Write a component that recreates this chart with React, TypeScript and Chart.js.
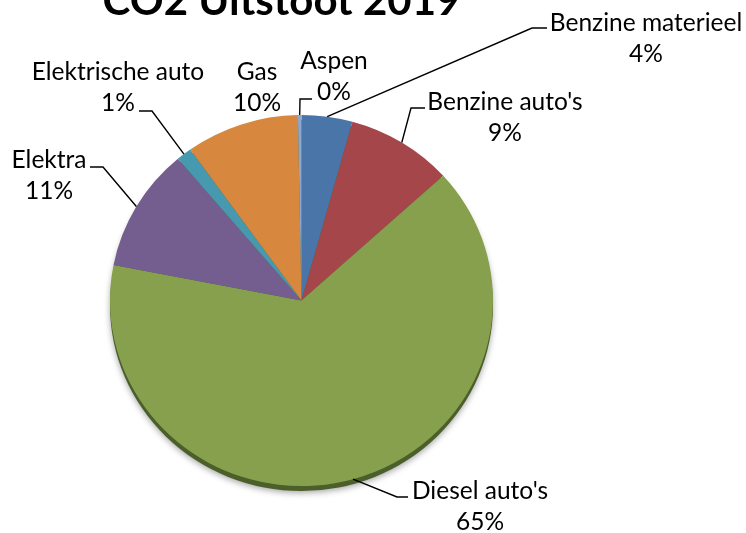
import React, { useEffect, useRef } from "react";
import { Chart, registerables } from "chart.js";

Chart.register(...registerables);

// ---- data ----
const chartTitle = "CO2 Uitstoot 2019";
const categories = [
  "Benzine materieel",
  "Benzine auto's",
  "Diesel auto's",
  "Elektra",
  "Elektrische auto",
  "Gas",
  "Aspen",
];
const aandeel = [4.3, 9.0, 65.0, 10.8, 1.3, 9.6, 0.3];

// ---- styles ----
const sliceColors = [
  "#4A75A8",
  "#A5474A",
  "#86A04E",
  "#745D8F",
  "#4799AF",
  "#D8873F",
  "#8EA7CF",
];
const FONT = "Lato, 'Open Sans', sans-serif";
const LABEL_SIZE = 24.5;
const TITLE_SIZE = 42;
const LINE_GAP = 31;
const Y_SCALE = 0.9687; // slight tilt of the pie
const RIM = 5;

// label layout (text centre x, middle y of first line, optional leader elbow/end)
type LabelPos = { x: number; y: number; elbow?: [number, number]; end?: [number, number] };
const labelLayout: LabelPos[] = [
  { x: 646, y: 23, elbow: [532, 28], end: [547, 28] },
  { x: 505, y: 102, elbow: [411, 108], end: [425, 108] },
  { x: 480, y: 491, elbow: [397, 497], end: [408, 497] },
  { x: 49, y: 160, elbow: [103, 167], end: [90, 167] },
  { x: 118, y: 72, elbow: [152, 111], end: [139, 111] },
  { x: 257, y: 72 },
  { x: 334, y: 61, elbow: [300, 99], end: [312, 99] },
];

const piePlugin = {
  id: "pieDecor",
  beforeDatasetsDraw(chart: any) {
    const ctx = chart.ctx as CanvasRenderingContext2D;
    const meta = chart.getDatasetMeta(0);
    const arc = meta.data[0];
    if (!arc) return;
    const { x, y, outerRadius } = arc.getProps(["x", "y", "outerRadius"], true);
    ctx.save();
    // 3D rim + shadow
    ctx.shadowColor = "rgba(0,0,0,0.35)";
    ctx.shadowBlur = 6;
    ctx.shadowOffsetY = 2;
    ctx.fillStyle = "#4B5F2A";
    ctx.beginPath();
    ctx.ellipse(x, y + RIM, outerRadius, outerRadius * Y_SCALE, 0, 0, Math.PI * 2);
    ctx.fill();
    ctx.restore();
    ctx.save();
    ctx.translate(x, y);
    ctx.scale(1, Y_SCALE);
    ctx.translate(-x, -y);
  },
  afterDatasetsDraw(chart: any) {
    const ctx = chart.ctx as CanvasRenderingContext2D;
    ctx.restore();
    const meta = chart.getDatasetMeta(0);
    const total = aandeel.reduce((a, b) => a + b, 0);
    ctx.save();
    // title
    ctx.fillStyle = "#000";
    ctx.font = `bold ${TITLE_SIZE}px ${FONT}`;
    ctx.textAlign = "center";
    ctx.textBaseline = "alphabetic";
    ctx.fillText(chartTitle, 281.5, 15);

    meta.data.forEach((el: any, i: number) => {
      const p = el.getProps(["x", "y", "startAngle", "endAngle", "outerRadius"], true);
      const mid = (p.startAngle + p.endAngle) / 2;
      const sx = p.x + Math.cos(mid) * p.outerRadius;
      const sy = p.y + Math.sin(mid) * p.outerRadius * Y_SCALE;
      const lay = labelLayout[i];
      if (lay.elbow && lay.end) {
        ctx.strokeStyle = "#000";
        ctx.lineWidth = 1.4;
        ctx.beginPath();
        ctx.moveTo(sx, sy);
        ctx.lineTo(lay.elbow[0], lay.elbow[1]);
        ctx.lineTo(lay.end[0], lay.end[1]);
        ctx.stroke();
      }
      const pct = Math.round((aandeel[i] / total) * 100) + "%";
      ctx.font = `${LABEL_SIZE}px ${FONT}`;
      ctx.textAlign = "center";
      ctx.textBaseline = "middle";
      ctx.fillStyle = "#000";
      ctx.fillText(categories[i], lay.x, lay.y);
      ctx.fillText(pct, lay.x, lay.y + LINE_GAP);
    });
    ctx.restore();
  },
};

export default function App() {
  const ref = useRef<HTMLCanvasElement | null>(null);
  useEffect(() => {
    if (!ref.current) return;
    const chart = new Chart(ref.current, {
      type: "pie",
      data: {
        labels: categories,
        datasets: [
          {
            data: aandeel,
            backgroundColor: sliceColors,
            borderWidth: 0,
          },
        ],
      },
      options: {
        animation: false,
        responsive: false,
        devicePixelRatio: 1,
        layout: { padding: { left: 110, right: 253, top: 109, bottom: 41 } },
        plugins: {
          legend: { display: false },
          tooltip: { enabled: false },
          title: { display: false },
        },
        events: [],
      },
      plugins: [piePlugin],
    });
    return () => chart.destroy();
  }, []);
  return (
    <div style={{ position: "fixed", left: 0, top: 0, width: 746, height: 533, background: "#fff" }}>
      <canvas ref={ref} width={746} height={533} style={{ width: 746, height: 533 }} />
    </div>
  );
}
